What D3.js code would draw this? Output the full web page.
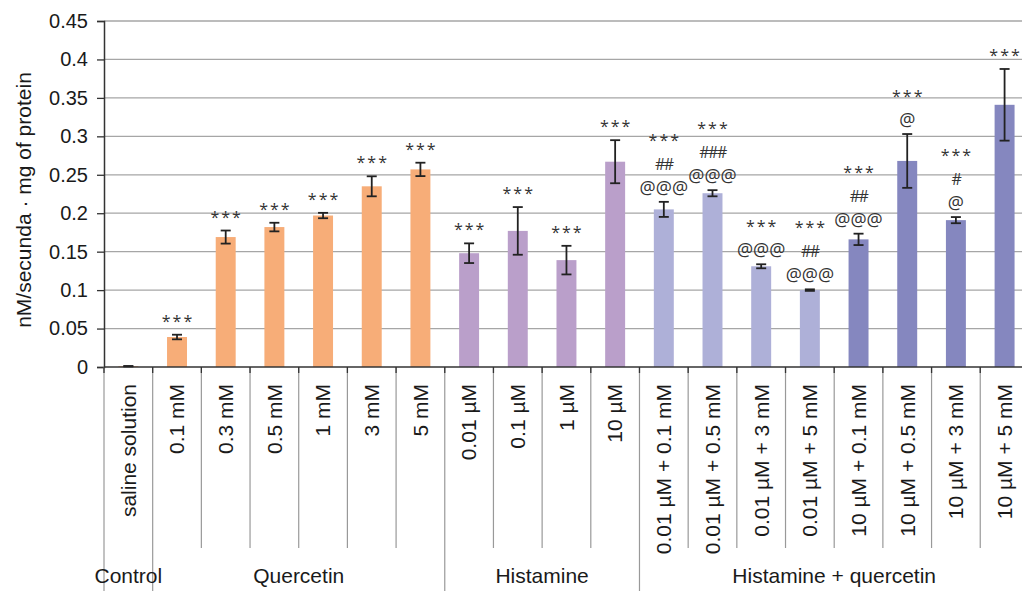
<!DOCTYPE html>
<html>
<head>
<meta charset="utf-8">
<script src="https://cdn.jsdelivr.net/npm/d3@7"></script>
<style>
  html, body { margin: 0; padding: 0; background: #fff; }
  svg { display: block; font-family: "Liberation Sans", Arial, sans-serif; }
</style>
</head>
<body>
<svg id="chart"></svg>
<script>
const width = 1022;
const height = 591;

// data
const categories = [
  "saline solution",
  "0.1 mM", "0.3 mM", "0.5 mM", "1 mM", "3 mM", "5 mM",
  "0.01 µM", "0.1 µM", "1 µM", "10 µM",
  "0.01 µM + 0.1 mM", "0.01 µM + 0.5 mM", "0.01 µM + 3 mM", "0.01 µM + 5 mM",
  "10 µM + 0.1 mM", "10 µM + 0.5 mM", "10 µM + 3 mM", "10 µM + 5 mM"
];
const kinds = [
  "control",
  "quercetin", "quercetin", "quercetin", "quercetin", "quercetin", "quercetin",
  "histamine", "histamine", "histamine", "histamine",
  "low", "low", "low", "low",
  "high", "high", "high", "high"
];
const means = [
  0.001,
  0.039, 0.169, 0.182, 0.197, 0.235, 0.257,
  0.148, 0.177, 0.139, 0.267,
  0.205, 0.226, 0.131, 0.100,
  0.166, 0.268, 0.191, 0.341
];
const errors = [
  0.0003,
  0.003, 0.0085, 0.0056, 0.0035, 0.013, 0.0087,
  0.0128, 0.031, 0.0186, 0.028,
  0.0098, 0.004, 0.0026, 0.001,
  0.0074, 0.035, 0.004, 0.0466
];
const marks = [
  [],
  ["***"], ["***"], ["***"], ["***"], ["***"], ["***"],
  ["***"], ["***"], ["***"], ["***"],
  ["***", "##", "@@@"], ["***", "###", "@@@"], ["***", "@@@"], ["***", "##", "@@@"],
  ["***", "##", "@@@"], ["***", "@"], ["***", "#", "@"], ["***"]
];
const groups = ["Control", "Quercetin", "Histamine", "Histamine + quercetin"];
const groupSizes = [1, 6, 4, 8];
const yTicks = [0, 0.05, 0.1, 0.15, 0.2, 0.25, 0.3, 0.35, 0.4, 0.45];

const colors = {
  control: "#f7ad78",
  quercetin: "#f7ad78",
  histamine: "#ba9fca",
  low: "#aeb0d8",
  high: "#8587bf"
};

const plotLeft = 104;
const plotTop = 21;
const plotBottom = 367;
const step = 48.68;

const svg = d3.select("#chart")
  .attr("width", width)
  .attr("height", height);

const x = d3.scaleBand()
  .domain(d3.range(categories.length))
  .range([plotLeft, plotLeft + step * categories.length])
  .paddingInner(0.59)
  .paddingOuter(0.295);

const y = d3.scaleLinear()
  .domain([0, 0.45])
  .range([plotBottom, plotTop]);

// gridlines
svg.append("g")
  .selectAll("line")
  .data(yTicks.filter(d => d > 0))
  .join("line")
  .attr("x1", plotLeft)
  .attr("x2", width)
  .attr("y1", d => y(d))
  .attr("y2", d => y(d))
  .attr("stroke", "#a6a6a6")
  .attr("stroke-width", 1.3);

// y axis
const yAxis = d3.axisLeft(y)
  .tickValues(yTicks)
  .tickSize(7)
  .tickPadding(9)
  .tickFormat(d => d === 0 ? "0" : String(+d.toFixed(2)));

const yg = svg.append("g")
  .attr("transform", `translate(${plotLeft},0)`)
  .call(yAxis);
yg.select(".domain").attr("stroke", "#333").attr("stroke-width", 1.5);
yg.selectAll(".tick line").attr("stroke", "#333").attr("stroke-width", 1.3);
yg.selectAll(".tick text")
  .attr("font-size", 20)
  .attr("font-family", "Liberation Sans, Arial, sans-serif")
  .attr("fill", "#1a1a1a");

svg.append("text")
  .attr("transform", `translate(24,${(plotTop + plotBottom) / 2 + 6}) rotate(-90)`)
  .attr("text-anchor", "middle")
  .attr("dy", "0.35em")
  .attr("font-size", 21)
  .attr("fill", "#1a1a1a")
  .text("nM/secunda · mg of protein");

// category separators below the axis
const groupStarts = d3.cumsum([0, ...groupSizes]);
const bounds = d3.range(categories.length + 1);

svg.append("g")
  .selectAll("line")
  .data(bounds)
  .join("line")
  .attr("x1", i => plotLeft + i * step)
  .attr("x2", i => plotLeft + i * step)
  .attr("y1", plotBottom)
  .attr("y2", i => groupStarts.includes(i) ? height : 548)
  .attr("stroke", "#999")
  .attr("stroke-width", 1.2);

svg.append("g")
  .selectAll("line")
  .data(bounds)
  .join("line")
  .attr("x1", i => plotLeft + i * step)
  .attr("x2", i => plotLeft + i * step)
  .attr("y1", plotBottom)
  .attr("y2", plotBottom + 6)
  .attr("stroke", "#333")
  .attr("stroke-width", 1.3);

// bars
svg.append("g")
  .selectAll("rect")
  .data(d3.range(categories.length))
  .join("rect")
  .attr("x", i => x(i))
  .attr("width", x.bandwidth())
  .attr("y", i => y(means[i]))
  .attr("height", i => y(0) - y(means[i]))
  .attr("fill", i => colors[kinds[i]]);

// x axis line
svg.append("line")
  .attr("x1", plotLeft)
  .attr("x2", width)
  .attr("y1", plotBottom)
  .attr("y2", plotBottom)
  .attr("stroke", "#333")
  .attr("stroke-width", 1.6);

// error bars
const err = svg.append("g")
  .attr("stroke", "#222")
  .attr("stroke-width", 1.8)
  .selectAll("g")
  .data(d3.range(categories.length))
  .join("g")
  .attr("transform", i => `translate(${x(i) + x.bandwidth() / 2},0)`);

err.append("line")
  .attr("y1", i => y(means[i] + errors[i]))
  .attr("y2", i => y(means[i] - errors[i]));
err.append("line")
  .attr("x1", -5).attr("x2", 5)
  .attr("y1", i => y(means[i] + errors[i]))
  .attr("y2", i => y(means[i] + errors[i]));
err.append("line")
  .attr("x1", -5).attr("x2", 5)
  .attr("y1", i => y(means[i] - errors[i]))
  .attr("y2", i => y(means[i] - errors[i]));

// significance marks
const mk = svg.append("g")
  .attr("font-family", "'Open Sans', 'Noto Sans', sans-serif")
  .attr("fill", "#333")
  .attr("text-anchor", "middle")
  .selectAll("g")
  .data(d3.range(categories.length))
  .join("g")
  .attr("transform", i => `translate(${x(i) + x.bandwidth() / 2},${y(means[i] + errors[i]) - 8})`);

mk.selectAll("text")
  .data(i => marks[i].map((m, k) => ({ m, k, n: marks[i].length })))
  .join("text")
  .attr("y", d => -(d.n - 1 - d.k) * 24)
  .attr("font-size", d => d.m[0] === "@" ? 18 : 16)
  .attr("letter-spacing", d => d.m[0] === "#" ? -1.5 : d.m[0] === "*" ? 2 : 0)
  .attr("dx", d => d.m[0] === "*" ? 1 : 0)
  .text(d => d.m);

// category labels
svg.append("g")
  .selectAll("text")
  .data(d3.range(categories.length))
  .join("text")
  .attr("transform", i => `translate(${x(i) + x.bandwidth() / 2},384) rotate(-90)`)
  .attr("text-anchor", "end")
  .attr("dy", "0.35em")
  .attr("font-size", 21)
  .attr("fill", "#1a1a1a")
  .text(i => categories[i]);

// group labels
svg.append("g")
  .selectAll("text")
  .data(groups)
  .join("text")
  .attr("x", (g, k) => plotLeft + step * (groupStarts[k] + groupStarts[k + 1]) / 2)
  .attr("y", 583)
  .attr("text-anchor", "middle")
  .attr("font-size", 21)
  .attr("fill", "#1a1a1a")
  .text(g => g);
</script>
</body>
</html>
